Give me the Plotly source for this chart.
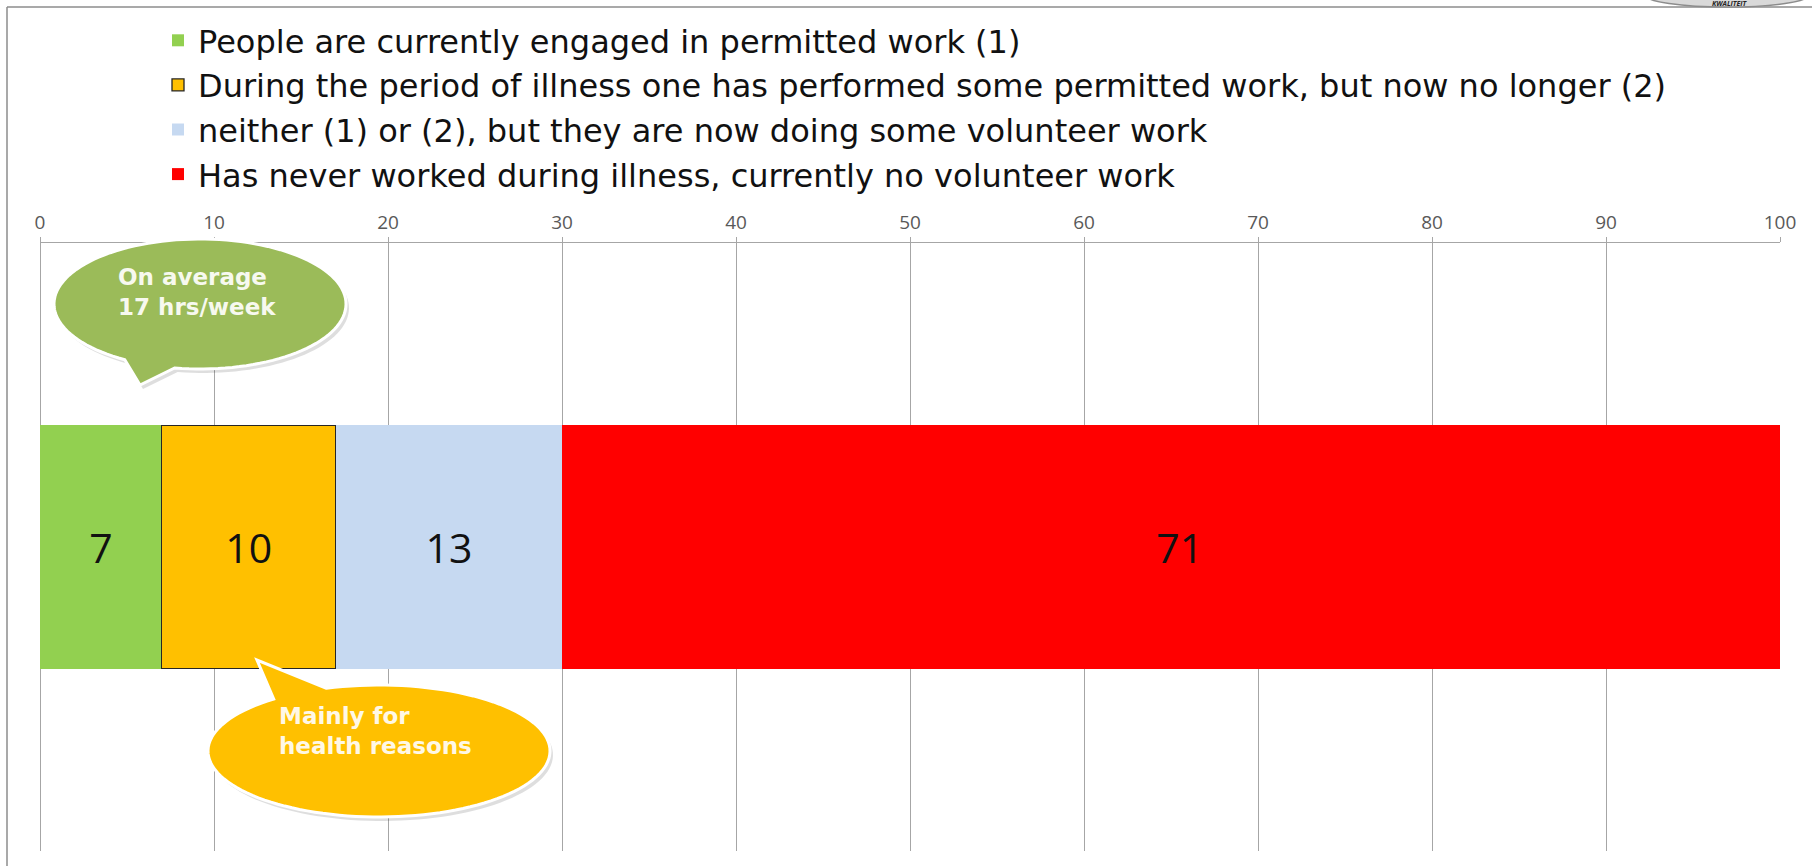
import numpy as np
import plotly.graph_objects as go

# ---- data -------------------------------------------------------------
categories = ["Total"]
series_names = [
    "People are currently engaged in permitted work (1)",
    "During the period of illness one has performed some permitted work, but now no longer (2)",
    "neither (1) or (2), but they are now doing some volunteer work",
    "Has never worked during illness, currently no volunteer work",
]
series_values = [7, 10, 13, 71]
series_colors = ["#92D050", "#FFC000", "#C6D9F1", "#FF0000"]
x_ticks = [0, 10, 20, 30, 40, 50, 60, 70, 80, 90, 100]
callout_texts = ["On average<br>17 hrs/week", "Mainly for<br>health reasons"]

# ---- page geometry (pixels) -------------------------------------------
W, H = 1812, 866
M_L, M_R, M_T, M_B = 40, 32, 243, 15
PW = W - M_L - M_R
PH = H - M_T - M_B
FONT = "Open Sans"
WIDE_FONT = "DejaVu Sans"


def px_x(px):
    return (px - M_L) / PW


def px_y(py):
    return (H - M_B - py) / PH


def bubble_path(cx, cy, rx, ry, a_start, a_end, tip, dx=0.0, dy=0.0, n=120):
    angs = np.radians(np.linspace(a_start, a_end, n))
    pts = [(cx + rx * np.cos(a) + dx, cy + ry * np.sin(a) + dy) for a in angs]
    pts.append((tip[0] + dx, tip[1] + dy))
    return "M " + " L ".join(f"{px_x(x):.5f},{px_y(y):.5f}" for x, y in pts) + " Z"


fig = go.Figure()

for name, val, col in zip(series_names, series_values, series_colors):
    outlined = col == "#FFC000"
    fig.add_trace(go.Bar(
        x=[val], y=categories, orientation="h", name=name,
        legendgroup=name,
        marker=dict(color=col,
                    line=dict(color="#262626" if outlined else col,
                              width=1.3 if outlined else 0)),
        text=[str(val)], textposition="inside", insidetextanchor="middle",
        textangle=0, constraintext="none",
        textfont=dict(family=FONT, size=41, color="#111111"),
        hoverinfo="skip",
    ))

shapes = []

# speech-bubble callouts: (center, radii, arc angles, tail tip, fill)
bubbles = [
    ((200, 304), (146, 65), (121.0, 100.0 + 360), (140, 385), "#9BBB59"),
    ((379, 751), (171, 66), (-108.0, -128.0 + 360), (257, 660), "#FFC000"),
]
for (cx, cy), (rx, ry), (a0, a1), tip, fill in bubbles:
    shapes.append(dict(type="path", xref="paper", yref="paper",
                       path=bubble_path(cx, cy, rx, ry, a0, a1, tip, dx=3, dy=4),
                       fillcolor="rgba(0,0,0,0.13)", line=dict(width=0),
                       layer="above"))
    shapes.append(dict(type="path", xref="paper", yref="paper",
                       path=bubble_path(cx, cy, rx, ry, a0, a1, tip),
                       fillcolor=fill, line=dict(color="#FFFFFF", width=3),
                       layer="above"))

# outer frame (top and left edges)
shapes.append(dict(type="line", xref="paper", yref="paper",
                   x0=px_x(7), x1=px_x(W + 5), y0=px_y(7), y1=px_y(7),
                   line=dict(color="#8C8C8C", width=1.5)))
shapes.append(dict(type="line", xref="paper", yref="paper",
                   x0=px_x(7), x1=px_x(7), y0=px_y(7), y1=px_y(H + 5),
                   line=dict(color="#8C8C8C", width=1.5)))

# badge at the top-right corner
shapes.append(dict(type="circle", xref="paper", yref="paper",
                   x0=px_x(1645), x1=px_x(1809), y0=px_y(-17), y1=px_y(7),
                   fillcolor="#D9D9D9", line=dict(color="#8C8C8C", width=1.5)))

annotations = []
callout_pos = [(116, 292), (277, 731)]
callout_col = ["#F7F9EF", "#FFF8E6"]
for text, (lx, ly), col in zip(callout_texts, callout_pos, callout_col):
    annotations.append(dict(
        xref="paper", yref="paper", x=px_x(lx), y=px_y(ly),
        xanchor="left", yanchor="middle", align="left", showarrow=False,
        text=f"<b>{text}</b>",
        font=dict(family=WIDE_FONT, size=23, color=col)))

annotations.append(dict(xref="paper", yref="paper", x=px_x(1730), y=px_y(3),
                        xanchor="center", yanchor="middle", showarrow=False,
                        text="<b><i>KWALITEIT</i></b>",
                        font=dict(family=FONT, size=7, color="#262626")))

fig.update_layout(
    width=W, height=H,
    margin=dict(l=M_L, r=M_R, t=M_T, b=M_B, autoexpand=False),
    barmode="stack", bargap=0.6,
    plot_bgcolor="white", paper_bgcolor="white",
    showlegend=True,
    legend=dict(x=px_x(158), y=px_y(13), xanchor="left", yanchor="top",
                font=dict(family=WIDE_FONT, size=32, color="#111111"),
                traceorder="grouped", tracegroupgap=0,
                bgcolor="rgba(0,0,0,0)", borderwidth=0),
    xaxis=dict(side="top", range=[0, 100], tickvals=x_ticks,
               ticktext=[str(t) for t in x_ticks],
               showgrid=True, gridcolor="#A6A6A6", gridwidth=1.2,
               zeroline=True, zerolinecolor="#A6A6A6", zerolinewidth=1.2,
               showline=True, linecolor="#A6A6A6", linewidth=1.2,
               ticks="outside", ticklen=5, tickcolor="#A6A6A6",
               tickfont=dict(family=FONT, size=19, color="#595959"),
               fixedrange=True),
    yaxis=dict(showticklabels=False, showgrid=False, zeroline=False,
               showline=False, fixedrange=True),
    shapes=shapes,
    annotations=annotations,
)

fig.write_html("out.html")
